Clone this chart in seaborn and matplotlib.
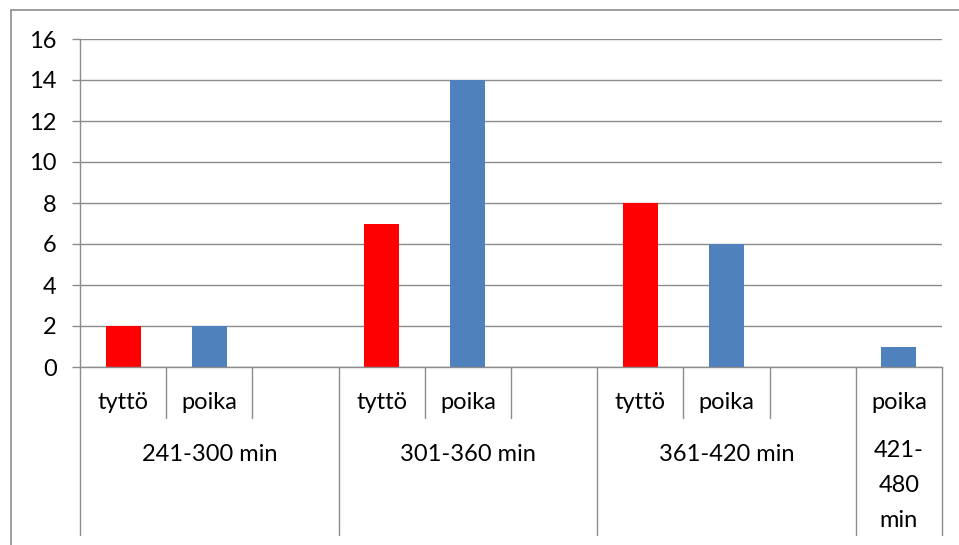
import matplotlib
matplotlib.use("Agg")
import matplotlib.pyplot as plt
from matplotlib.lines import Line2D
import seaborn as sns
import pandas as pd

# Category structure: each time band holds slots for tyttö / poika (plus a spacer slot)
group_labels = ["241-300 min", "301-360 min", "361-420 min", "421-\n480\nmin"]
sub_labels = [["tyttö", "poika", ""], ["tyttö", "poika", ""], ["tyttö", "poika", ""], ["poika"]]
tytto = [2, 7, 8, None]
poika = [2, 14, 6, 1]
y_ticks = [0, 2, 4, 6, 8, 10, 12, 14, 16]
colors = {"tyttö": "#FF0000", "poika": "#4F81BD"}
line_gray = "#8c8c8c"

rows = []
slot = 0
group_spans = []
slot_names = []
for g, subs in enumerate(sub_labels):
    start = slot
    for s in subs:
        slot_names.append(s)
        if s:
            val = tytto[g] if s == "tyttö" else poika[g]
            if val is not None:
                rows.append({"slot": slot, "sukupuoli": s, "määrä": val})
        slot += 1
    group_spans.append((start, slot))
n_slots = slot
df = pd.DataFrame(rows)

sns.set_theme(style="white")
plt.rcParams["font.family"] = ["Lato", "DejaVu Sans"]

W, H = 959, 545
fig = plt.figure(figsize=(W / 100, H / 100), dpi=100)
L, R, B, T = 80, 942, 367, 39
ax = fig.add_axes([L / W, 1 - B / H, (R - L) / W, (B - T) / H])

sns.barplot(data=df, x="slot", y="määrä", hue="sukupuoli",
            order=list(range(n_slots)), hue_order=["tyttö", "poika"],
            palette=colors, dodge=False, width=0.405, saturation=1,
            linewidth=0, legend=False, ax=ax)

ax.set_xlim(-0.5, n_slots - 0.5)
ax.set_ylim(0, 16)
ax.set_yticks(y_ticks)
ax.set_xticks([])
ax.set_xlabel("")
ax.set_ylabel("")
ax.yaxis.grid(True, color=line_gray, linewidth=1.0)
ax.set_axisbelow(True)
for side in ("top", "right"):
    ax.spines[side].set_visible(False)
for side in ("left", "bottom"):
    ax.spines[side].set_color(line_gray)
    ax.spines[side].set_linewidth(1.0)
ax.tick_params(axis="y", left=True, length=5.8, width=1.0, color=line_gray,
               pad=11, labelsize=17, labelcolor="black")


def yf(py):
    """Pixel row -> axes-fraction y."""
    return (B - py) / (B - T)


xt = ax.get_xaxis_transform()
group_edges = set()
for a, b in group_spans:
    group_edges.add(a)
    group_edges.add(b)

# separator lines of the two-level category axis
for k in range(n_slots + 1):
    bottom = 535 if k in group_edges else 418
    ax.plot([k - 0.5, k - 0.5], [0, yf(bottom)], transform=xt, color=line_gray,
            linewidth=1.0, clip_on=False)

# inner labels
for k, name in enumerate(slot_names):
    if name:
        ax.text(k, yf(409), name, transform=xt, ha="center", va="baseline",
                fontsize=17, color="black")

# group labels (a wrapped label is anchored by its last line)
for (a, b), lab in zip(group_spans, group_labels):
    base = 527 if "\n" in lab else 461
    ax.text((a + b - 1) / 2, yf(base), lab, transform=xt, ha="center",
            va="baseline", fontsize=17, color="black", linespacing=1.82,
            multialignment="center")

# chart frame
fig.add_artist(Line2D([11 / W, 11 / W], [1 - 10 / H, 0], color=line_gray,
                      linewidth=1.2, transform=fig.transFigure))
fig.add_artist(Line2D([11 / W, 1], [1 - 10 / H, 1 - 10 / H], color=line_gray,
                      linewidth=1.2, transform=fig.transFigure))

fig.savefig("out.png", dpi=100)
